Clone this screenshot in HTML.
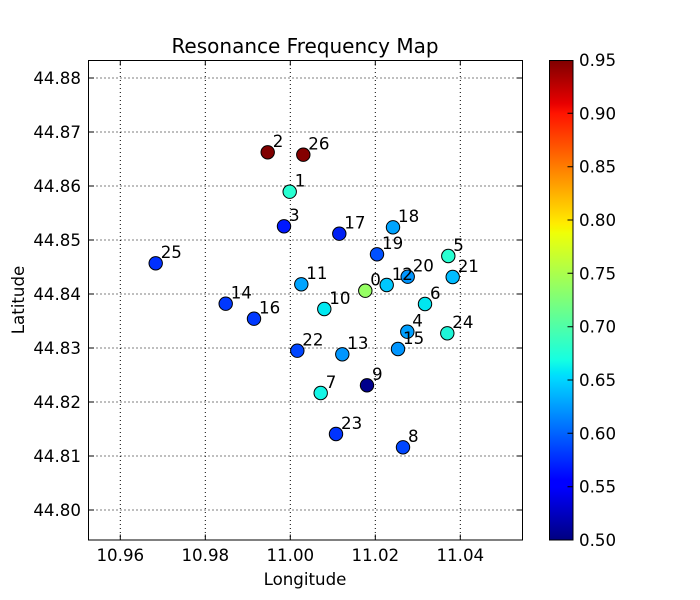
<!DOCTYPE html>
<html><head><meta charset="utf-8"><style>
html,body{margin:0;padding:0;background:#fff;}
svg{display:block;}
text{font-family:"DejaVu Sans","Liberation Sans",sans-serif;fill:#000;}
</style></head><body>
<svg width="700" height="600" viewBox="0 0 700 600" xmlns="http://www.w3.org/2000/svg">
<defs>
<linearGradient id="jet" x1="0" y1="1" x2="0" y2="0">
<stop offset="0" stop-color="#000080"/>
<stop offset="0.11" stop-color="#0000ff"/>
<stop offset="0.125" stop-color="#0000ff"/>
<stop offset="0.34" stop-color="#00dbff"/>
<stop offset="0.35" stop-color="#00e6f7"/>
<stop offset="0.375" stop-color="#15ffe2"/>
<stop offset="0.5" stop-color="#7dff7a"/>
<stop offset="0.64" stop-color="#efff08"/>
<stop offset="0.65" stop-color="#f7f500"/>
<stop offset="0.66" stop-color="#ffec00"/>
<stop offset="0.89" stop-color="#ff1300"/>
<stop offset="0.91" stop-color="#e80000"/>
<stop offset="1" stop-color="#800000"/>
</linearGradient>
</defs>
<rect x="0" y="0" width="700" height="600" fill="#fff"/>
<!-- grid -->
<g stroke="#000" stroke-width="1" stroke-dasharray="1,3" fill="none">
<line x1="120.3" y1="60" x2="120.3" y2="540"/>
<line x1="205.3" y1="60" x2="205.3" y2="540"/>
<line x1="290.3" y1="60" x2="290.3" y2="540"/>
<line x1="375.3" y1="60" x2="375.3" y2="540"/>
<line x1="460.3" y1="60" x2="460.3" y2="540"/>
<line x1="88.5" y1="510" x2="522.5" y2="510"/>
<line x1="88.5" y1="456" x2="522.5" y2="456"/>
<line x1="88.5" y1="402" x2="522.5" y2="402"/>
<line x1="88.5" y1="348" x2="522.5" y2="348"/>
<line x1="88.5" y1="294" x2="522.5" y2="294"/>
<line x1="88.5" y1="240" x2="522.5" y2="240"/>
<line x1="88.5" y1="186" x2="522.5" y2="186"/>
<line x1="88.5" y1="132" x2="522.5" y2="132"/>
<line x1="88.5" y1="78" x2="522.5" y2="78"/>
</g>
<!-- ticks -->
<g stroke="#000" stroke-width="1">
<path d="M120.3 540v-5.5M205.3 540v-5.5M290.3 540v-5.5M375.3 540v-5.5M460.3 540v-5.5M120.3 60v5.5M205.3 60v5.5M290.3 60v5.5M375.3 60v5.5M460.3 60v5.5"/>
<path d="M88.5 510h5.5M88.5 456h5.5M88.5 402h5.5M88.5 348h5.5M88.5 294h5.5M88.5 240h5.5M88.5 186h5.5M88.5 132h5.5M88.5 78h5.5M522.5 510h-5.5M522.5 456h-5.5M522.5 402h-5.5M522.5 348h-5.5M522.5 294h-5.5M522.5 240h-5.5M522.5 186h-5.5M522.5 132h-5.5M522.5 78h-5.5"/>
</g>
<!-- points -->
<g stroke="#000" stroke-width="1">
<circle cx="267.7" cy="152.3" r="6.7" fill="#800000"/>
<circle cx="303.3" cy="154.7" r="6.7" fill="#840000"/>
<circle cx="289.7" cy="191.7" r="6.7" fill="#28ffd2"/>
<circle cx="284" cy="226.3" r="6.7" fill="#0018ff"/>
<circle cx="155.7" cy="263.3" r="6.7" fill="#0030ff"/>
<circle cx="301.3" cy="284.3" r="6.7" fill="#00a4ff"/>
<circle cx="225.7" cy="303.7" r="6.7" fill="#0038ff"/>
<circle cx="254" cy="318.7" r="6.7" fill="#0038ff"/>
<circle cx="324.3" cy="309" r="6.7" fill="#00e8f0"/>
<circle cx="339.3" cy="233.7" r="6.7" fill="#0020f4"/>
<circle cx="393" cy="227.3" r="6.7" fill="#00a4ff"/>
<circle cx="377" cy="254.3" r="6.7" fill="#0050ff"/>
<circle cx="448.3" cy="256" r="6.7" fill="#28ffd2"/>
<circle cx="407.7" cy="276.7" r="6.7" fill="#0096ff"/>
<circle cx="386.7" cy="285" r="6.7" fill="#00c8ff"/>
<circle cx="452.7" cy="277" r="6.7" fill="#00bcff"/>
<circle cx="365.3" cy="290.7" r="6.7" fill="#96ff64"/>
<circle cx="425" cy="304" r="6.7" fill="#00e6f0"/>
<circle cx="407.3" cy="331.7" r="6.7" fill="#00a0ff"/>
<circle cx="447.3" cy="333.3" r="6.7" fill="#1ef5d7"/>
<circle cx="398" cy="349" r="6.7" fill="#0096ff"/>
<circle cx="342.3" cy="354.3" r="6.7" fill="#0096ff"/>
<circle cx="297.3" cy="350.7" r="6.7" fill="#0046ff"/>
<circle cx="320.7" cy="393" r="6.7" fill="#14f5e6"/>
<circle cx="367" cy="385.3" r="6.7" fill="#00008c"/>
<circle cx="336" cy="434" r="6.7" fill="#0034ff"/>
<circle cx="403" cy="447.3" r="6.7" fill="#0046ff"/>
</g>
<!-- annotations -->
<g font-size="16.67px">
<text x="272.7" y="147">2</text>
<text x="308.3" y="149.5">26</text>
<text x="294.7" y="186.5">1</text>
<text x="289" y="221">3</text>
<text x="160.7" y="258">25</text>
<text x="306.3" y="279">11</text>
<text x="230.7" y="298.5">14</text>
<text x="259" y="313.5">16</text>
<text x="329.3" y="304">10</text>
<text x="344.3" y="228.5">17</text>
<text x="398" y="222">18</text>
<text x="382" y="249">19</text>
<text x="453.3" y="251">5</text>
<text x="412.7" y="271.5">20</text>
<text x="391.7" y="280">12</text>
<text x="457.7" y="272">21</text>
<text x="370.3" y="285.5">0</text>
<text x="430" y="299">6</text>
<text x="412.3" y="326.5">4</text>
<text x="452.3" y="328">24</text>
<text x="403" y="344">15</text>
<text x="347.3" y="349">13</text>
<text x="302.3" y="345.5">22</text>
<text x="325.7" y="388">7</text>
<text x="372" y="380">9</text>
<text x="341" y="429">23</text>
<text x="408" y="442">8</text>
</g>
<!-- frame -->
<rect x="88.5" y="60.5" width="434" height="479.5" fill="none" stroke="#000" stroke-width="1"/>
<!-- tick labels -->
<g font-size="16.67px" text-anchor="middle">
<text x="120.3" y="561">10.96</text>
<text x="205.3" y="561">10.98</text>
<text x="290.3" y="561">11.00</text>
<text x="375.3" y="561">11.02</text>
<text x="460.3" y="561">11.04</text>
</g>
<g font-size="16.67px" text-anchor="end">
<text x="81" y="516">44.80</text>
<text x="81" y="462">44.81</text>
<text x="81" y="408">44.82</text>
<text x="81" y="354">44.83</text>
<text x="81" y="300">44.84</text>
<text x="81" y="246">44.85</text>
<text x="81" y="192">44.86</text>
<text x="81" y="138">44.87</text>
<text x="81" y="84">44.88</text>
</g>
<text x="305" y="585" font-size="16.67px" text-anchor="middle">Longitude</text>
<text transform="translate(24,300) rotate(-90)" font-size="16.67px" text-anchor="middle">Latitude</text>
<text x="305" y="53" font-size="20px" text-anchor="middle">Resonance Frequency Map</text>
<!-- colorbar -->
<rect x="549.5" y="60.5" width="23.5" height="479.5" fill="url(#jet)" stroke="#000" stroke-width="1"/>
<g stroke="#000" stroke-width="1">
<path d="M573 486.7h-5.5M573 433.3h-5.5M573 380h-5.5M573 326.7h-5.5M573 273.3h-5.5M573 220h-5.5M573 166.7h-5.5M573 113.3h-5.5"/>
</g>
<g font-size="16.67px">
<text x="579" y="546">0.50</text>
<text x="579" y="492.7">0.55</text>
<text x="579" y="439.3">0.60</text>
<text x="579" y="386">0.65</text>
<text x="579" y="332.7">0.70</text>
<text x="579" y="279.3">0.75</text>
<text x="579" y="226">0.80</text>
<text x="579" y="172.7">0.85</text>
<text x="579" y="119.3">0.90</text>
<text x="579" y="66">0.95</text>
</g>
</svg>
</body></html>
